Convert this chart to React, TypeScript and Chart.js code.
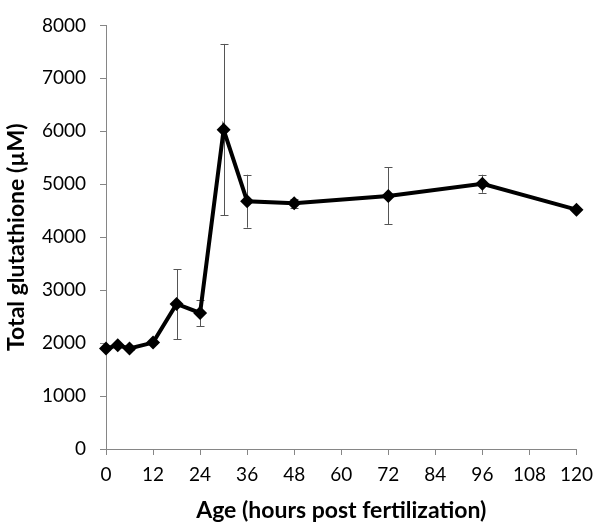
import React, { useEffect, useRef } from "react";
import { Chart, registerables } from "chart.js";

Chart.register(...registerables);

const hours = [0, 3, 6, 12, 18, 24, 30, 36, 48, 72, 96, 120];
const glutathione = [1900, 1960, 1900, 2010, 2740, 2570, 6030, 4680, 4640, 4780, 5010, 4520];
const errorMinus = [30, 30, 30, 30, 670, 250, 1620, 500, 80, 540, 170, 30];
const errorPlus = [30, 30, 30, 30, 650, 250, 1620, 500, 80, 540, 170, 30];
const xTicks = [0, 12, 24, 36, 48, 60, 72, 84, 96, 108, 120];
const yTicks = [0, 1000, 2000, 3000, 4000, 5000, 6000, 7000, 8000];

const FONT = "Lato, 'Open Sans', sans-serif";
const AXIS_GREY = "#868686";

const errorBarPlugin = {
  id: "errorBars",
  beforeDatasetsDraw(chart: any) {
    const { ctx, scales } = chart;
    const xs = scales.x;
    const ys = scales.y;
    ctx.save();
    ctx.strokeStyle = "#555555";
    ctx.lineWidth = 1;
    hours.forEach((h, i) => {
      const px = Math.round(xs.getPixelForValue(h)) + 0.5;
      const top = ys.getPixelForValue(glutathione[i] + errorPlus[i]);
      const bot = ys.getPixelForValue(glutathione[i] - errorMinus[i]);
      const cap = 4;
      ctx.beginPath();
      ctx.moveTo(px, top);
      ctx.lineTo(px, bot);
      ctx.moveTo(px - cap, Math.round(top) + 0.5);
      ctx.lineTo(px + cap, Math.round(top) + 0.5);
      ctx.moveTo(px - cap, Math.round(bot) + 0.5);
      ctx.lineTo(px + cap, Math.round(bot) + 0.5);
      ctx.stroke();
    });
    ctx.restore();
  },
};

export default function App() {
  const ref = useRef<HTMLCanvasElement | null>(null);

  useEffect(() => {
    if (!ref.current) return;
    const chart = new Chart(ref.current, {
      type: "line",
      data: {
        datasets: [
          {
            data: hours.map((h, i) => ({ x: h, y: glutathione[i] })),
            borderColor: "#000000",
            backgroundColor: "#000000",
            borderWidth: 4,
            pointStyle: "rectRot",
            pointRadius: 7,
            pointBorderWidth: 0,
            pointBackgroundColor: "#000000",
            tension: 0,
            clip: false,
          } as any,
        ],
      },
      options: {
        responsive: false,
        animation: false,
        layout: { padding: { top: 14, right: 21, bottom: 0, left: 0 } },
        plugins: {
          legend: { display: false },
          tooltip: { enabled: false },
        },
        scales: {
          x: {
            type: "linear",
            min: 0,
            max: 120,
            afterBuildTicks: (s: any) => {
              s.ticks = xTicks.map((v) => ({ value: v }));
            },
            afterFit: (s: any) => {
              s.height = 81;
            },
            grid: {
              drawOnChartArea: false,
              drawTicks: true,
              tickLength: 6,
              color: AXIS_GREY,
              lineWidth: 1,
            },
            border: { color: AXIS_GREY, width: 1 },
            ticks: {
              color: "#000000",
              font: { family: FONT, size: 19 },
              padding: 8,
              maxRotation: 0,
              autoSkip: false,
            },
            title: {
              display: true,
              text: "Age (hours post fertilization)",
              color: "#000000",
              font: { family: FONT, size: 23, weight: "bold" },
              padding: { top: 4, bottom: 6 },
            },
          },
          y: {
            type: "linear",
            min: 0,
            max: 8000,
            afterBuildTicks: (s: any) => {
              s.ticks = yTicks.map((v) => ({ value: v }));
            },
            afterFit: (s: any) => {
              s.width = 106;
            },
            grid: {
              drawOnChartArea: false,
              drawTicks: true,
              tickLength: 6,
              color: AXIS_GREY,
              lineWidth: 1,
            },
            border: { color: AXIS_GREY, width: 1 },
            ticks: {
              color: "#000000",
              font: { family: FONT, size: 19 },
              padding: 14,
              autoSkip: false,
              callback: (v: any) => String(v),
            },
            title: {
              display: true,
              text: "Total glutathione (µM)",
              color: "#000000",
              font: { family: FONT, size: 23, weight: "bold" },
              padding: { top: 3, bottom: 4 },
            },
          },
        },
      },
      plugins: [errorBarPlugin],
    });
    return () => chart.destroy();
  }, []);

  return (
    <div style={{ position: "fixed", left: 0, top: 0, width: 601, height: 530, background: "#ffffff" }}>
      <canvas ref={ref} width={601} height={530} style={{ display: "block" }} />
    </div>
  );
}
